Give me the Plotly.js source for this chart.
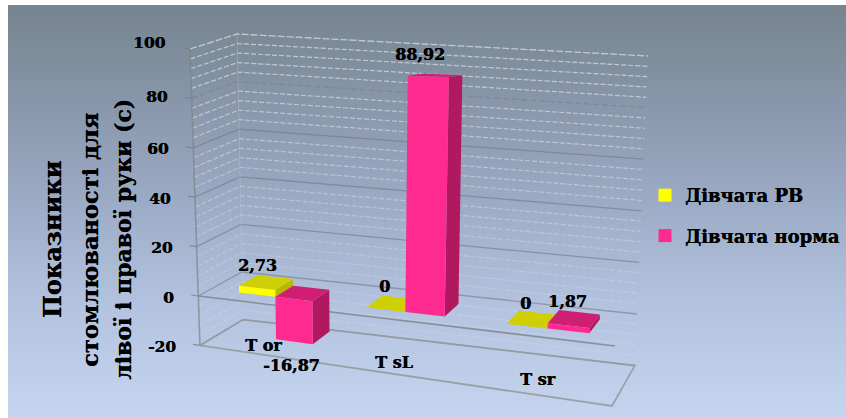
<!DOCTYPE html>
<html lang="uk">
<head>
<meta charset="utf-8">
<script src="https://cdn.plot.ly/plotly-3.0.1.min.js"></script>
<style>
  html, body { margin: 0; padding: 0; background: #fff; }
  #chart {
    width: 846px; height: 418px;
    background: linear-gradient(to bottom, #76858f 5px, #8695a8 90px, #9dacc6 200px, #b3c3df 300px, #c6d6f0 418px) 8px 5px / 838px 413px no-repeat;
  }
</style>
</head>
<body>
<div id="chart"></div>
<script>
// Fatigue indicators for the left and right hand, drawn as a 3D column chart.
const categories = ['T or', 'T sL', 'T sr'];
const seriesNames = ['Дівчата РВ', 'Дівчата норма'];
const girlsRV = [2.73, 0, 0];
const girlsNorm = [-16.87, 88.92, 1.87];
const valueTicks = [-20, 0, 20, 40, 60, 80, 100];
const minorStep = 4;
const yTitleLines = ['Показники', 'стомлюваності для', 'лівої і правої руки (с)'];

const SERIF = '"DejaVu Serif", serif';
const HEAVY = '0.4px 0 0 #000';
const PINK = { front: '#ff2a90', side: '#b0185f', top: '#cf1f72' };
const YELLOW = { front: '#ffff00', side: '#b8b800', top: '#cfcf06' };

// Vertical edges of the chart box: x and y as linear functions of the value.
const edges = {
  fl: { x0: 198.3, xs: -0.083, y0: 296, ys: -2.47 },
  bl: { x0: 242, xs: -0.05, y0: 272, ys: -2.38 },
  br: { x0: 637, xs: 0.11, y0: 314, ys: -2.58 },
  fr: { x0: 615, xs: 0.15, y0: 346, ys: -3.0 }
};
const PERSPECTIVE = 0.09;
const BAR_WIDTH = 0.095, DEPTH_NEAR = 0.28, DEPTH_FAR = 0.72;
const categoryShift = [0.004, -0.003, 0];

function project(u, d, v) {
  const t = u - PERSPECTIVE * u * (1 - u);
  const at = (k) => {
    const e = edges[k];
    return [e.x0 + e.xs * v, e.y0 + e.ys * v];
  };
  const mix = (a, b, s) => [a[0] + (b[0] - a[0]) * s, a[1] + (b[1] - a[1]) * s];
  return mix(mix(at('fl'), at('fr'), t), mix(at('bl'), at('br'), t), d);
}

function pathTrace(points, opts) {
  return Object.assign({
    x: points.map(p => p[0]), y: points.map(p => p[1]),
    type: 'scatter', mode: 'lines', hoverinfo: 'skip', showlegend: false
  }, opts);
}
function lineTrace(points, color, width, dash) {
  return pathTrace(points, { line: { color, width, dash: dash || 'solid' } });
}
function faceTrace(points, color) {
  return pathTrace(points.concat([points[0]]), {
    mode: 'none', fill: 'toself', fillcolor: color
  });
}

const traces = [];

// Walls: gridlines run along the left wall and then the back wall.
function wallLine(v, color, width, dash) {
  traces.push(lineTrace([project(0, 0, v), project(0, 1, v), project(1, 1, v)], color, width, dash));
}
for (let v = valueTicks[0]; v < 100; v += minorStep) {
  const alpha = (0.3 + 0.45 * Math.max(v, 0) / 100).toFixed(2);
  if (!valueTicks.includes(v)) wallLine(v, `rgba(222,226,228,${alpha})`, 1.2, '5px 2px');
}
valueTicks.forEach(v => {
  if (v === 100) wallLine(v, 'rgba(215,218,220,0.8)', 1.3, '7px 2px');
  else if (v === 80) wallLine(v, 'rgba(118,118,122,0.45)', 1.2, '6px 3px');
  else wallLine(v, 'rgba(112,116,122,0.55)', 1.3);
  traces.push(lineTrace([project(0, 0, v), [project(0, 0, v)[0] - 7, project(0, 0, v)[1] - 1]], 'rgba(120,120,120,0.7)', 1.2));
});

// Box outline: left vertical edges and the floor.
traces.push(lineTrace([project(0, 0, -20), project(0, 0, 100)], 'rgba(125,130,135,0.7)', 1.6));
traces.push(lineTrace([project(0, 1, -20), project(0, 1, 100)], 'rgba(190,195,200,0.4)', 1));
traces.push(lineTrace([project(0, 0, -20), project(1, 0, -20), project(1, 1, -20), project(0, 1, -20), project(0, 0, -20)], 'rgba(150,155,158,0.9)', 1.8));
traces.push(lineTrace([project(0, 0, 0), project(1, 0, 0)], 'rgba(120,124,130,0.75)', 1.6));

// One column with its top, side and front faces, drawn back to front.
function column(u0, u1, value, colors) {
  const lo = Math.min(0, value), hi = Math.max(0, value);
  const P = project;
  const faces = [
    [[P(u1, DEPTH_NEAR, lo), P(u1, DEPTH_FAR, lo), P(u1, DEPTH_FAR, hi), P(u1, DEPTH_NEAR, hi)], colors.side],
    [[P(u0, DEPTH_NEAR, hi), P(u1, DEPTH_NEAR, hi), P(u1, DEPTH_FAR, hi), P(u0, DEPTH_FAR, hi)], colors.top],
    [[P(u0, DEPTH_NEAR, lo), P(u1, DEPTH_NEAR, lo), P(u1, DEPTH_NEAR, hi), P(u0, DEPTH_NEAR, hi)], colors.front]
  ];
  faces.forEach(f => traces.push(faceTrace(f[0], f[1])));
}

const centers = categories.map((_, i) => (i + 0.5) / categories.length + categoryShift[i]);
categories.forEach((_, i) => {
  column(centers[i] - BAR_WIDTH, centers[i], girlsRV[i], YELLOW);
  column(centers[i], centers[i] + BAR_WIDTH, girlsNorm[i], PINK);
});

// Legend entries; the swatches carry no data of their own.
[[seriesNames[0], YELLOW.front], [seriesNames[1], PINK.front]].forEach(([name, color], i) => {
  traces.push({
    x: [null], y: [null], type: 'scatter', mode: 'markers', name,
    legendgroup: 'g' + i, hoverinfo: 'skip',
    marker: { symbol: 'square', size: 13, color }
  });
});

const annotations = [];
function label(x, y, text, size, extra) {
  annotations.push(Object.assign({
    x, y, xref: 'x', yref: 'y', text, showarrow: false,
    font: { family: SERIF, size, color: '#000', weight: 700, shadow: HEAVY }
  }, extra));
}

const tickNudge = { 100: -8, 80: -3 };
valueTicks.forEach(v => {
  const p = project(0, 0, v);
  label(p[0] - 22, p[1] + 1 + (tickNudge[v] || 0), String(v), 15.5, { xanchor: 'right' });
});

const fmt = (v) => v === 0 ? '0' : v.toFixed(2).replace('.', ',');
const rvOffsets = [[-9, -17], [-9, -17], [-7, -16]];
const normOffsets = [[-11, 30], [-15, -21], [-7, -17]];
const categoryOffsets = [[-5, -7], [-4, -9], [-3, -13]];
categories.forEach((_, i) => {
  const a = project(centers[i] - BAR_WIDTH / 2, 0.5, girlsRV[i]);
  label(a[0] + rvOffsets[i][0], a[1] + rvOffsets[i][1], fmt(girlsRV[i]), 16);
  const b = project(centers[i] + BAR_WIDTH / 2, 0.5, girlsNorm[i]);
  label(b[0] + normOffsets[i][0], b[1] + normOffsets[i][1], fmt(girlsNorm[i]), 16);
  const c = project(centers[i], 0.08, -20);
  label(c[0] + categoryOffsets[i][0], c[1] + categoryOffsets[i][1], categories[i], 16);
});

// Three-line value axis title, one annotation per line.
const titleX = [52, 90, 123], titleSize = [24, 22.5, 22];
yTitleLines.forEach((t, i) => label(titleX[i], 240, t, titleSize[i], { textangle: -90 }));

Plotly.newPlot('chart', traces, {
  width: 846, height: 418,
  margin: { l: 0, r: 0, t: 0, b: 0 },
  paper_bgcolor: 'rgba(0,0,0,0)',
  plot_bgcolor: 'rgba(0,0,0,0)',
  xaxis: { range: [0, 846], visible: false, fixedrange: true },
  yaxis: { range: [418, 0], visible: false, fixedrange: true },
  showlegend: true,
  legend: {
    x: 645 / 846, xanchor: 'left', y: 1 - 177 / 418, yanchor: 'top',
    bgcolor: 'rgba(0,0,0,0)', tracegroupgap: 14,
    font: { family: SERIF, size: 18, color: '#000', weight: 700, shadow: HEAVY },
    itemwidth: 30
  },
  annotations,
  hovermode: false
}, { displayModeBar: false, staticPlot: true });
</script>
</body>
</html>
